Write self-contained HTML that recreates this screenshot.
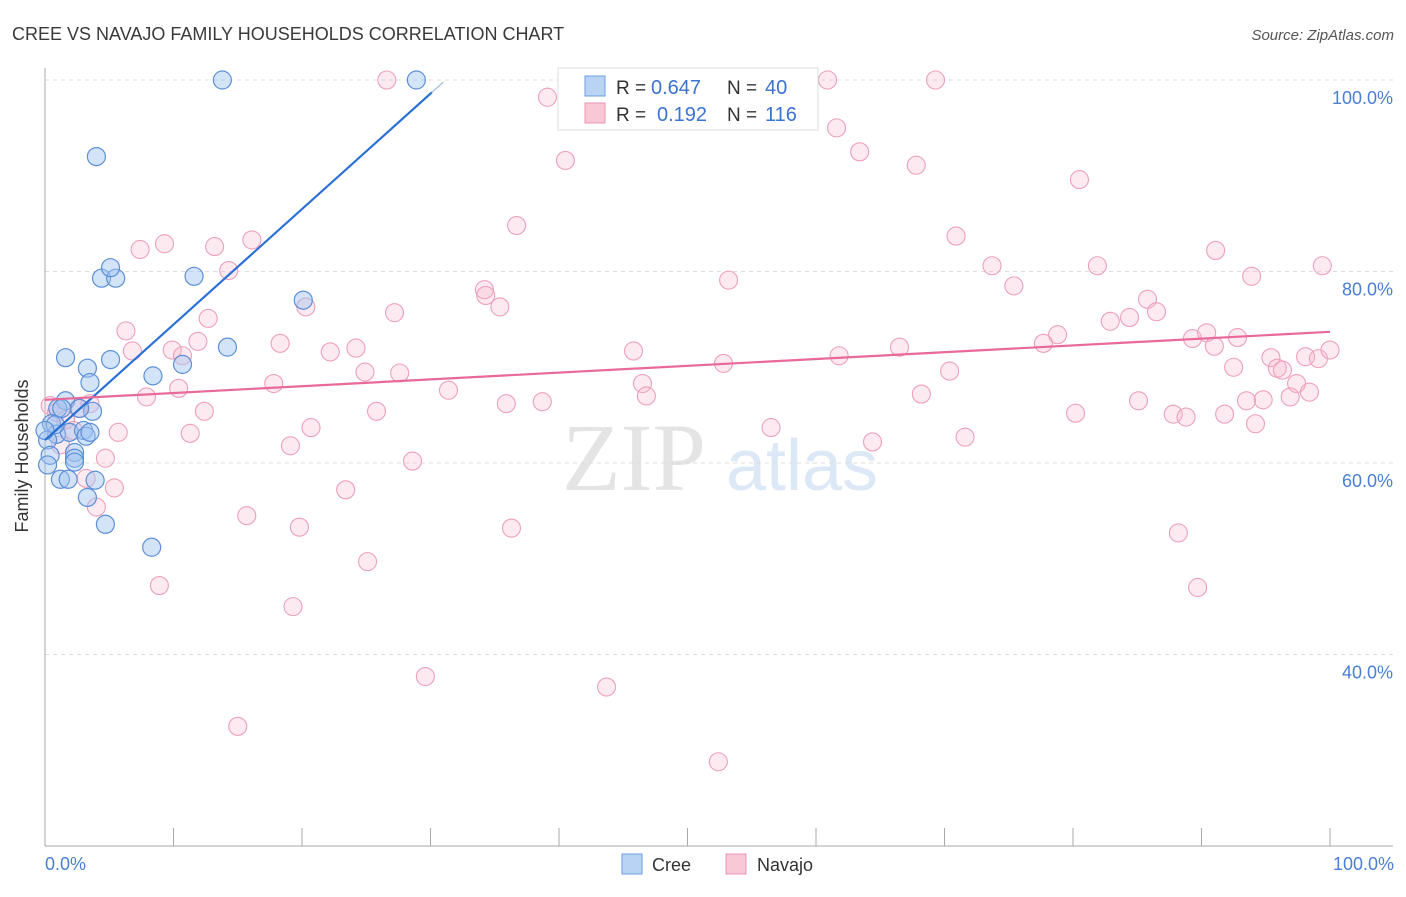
<!DOCTYPE html>
<html><head><meta charset="utf-8"><style>
body{margin:0;background:#fff;font-family:"Liberation Sans",sans-serif}
</style></head><body>
<svg width="1406" height="892" xmlns="http://www.w3.org/2000/svg">
<text x="12" y="40" font-size="18" fill="#3a3a3a">CREE VS NAVAJO FAMILY HOUSEHOLDS CORRELATION CHART</text>
<text x="1394" y="40" font-size="15" fill="#555" text-anchor="end" font-style="italic">Source: ZipAtlas.com</text>
<g>
<text x="634" y="490" font-size="96" fill="#e4e4e4" text-anchor="middle" font-family="Liberation Serif,serif">ZIP</text>
<text x="802" y="490" font-size="72" fill="#dce8f6" text-anchor="middle">atlas</text>
</g>
<g id="grid"></g>
<g id="axes"></g>
<g id="pts"></g>
<g id="lines"></g>
<text x="28" y="456" font-size="18" fill="#333" text-anchor="middle" transform="rotate(-90 28 456)">Family Households</text>
<text x="45" y="870" font-size="18" fill="#4a7fd4">0.0%</text>
<text x="1394" y="870" font-size="18" fill="#4a7fd4" text-anchor="end">100.0%</text>
<g>
<rect x="558" y="68" width="260" height="62" fill="#fff" stroke="#ddd"/>
<rect x="585" y="76" width="20" height="20" fill="#b9d3f5" stroke="#6d9de0"/>
<rect x="585" y="103" width="20" height="20" fill="#f9c8d7" stroke="#e994b2"/>
<text x="616" y="94" font-size="19" fill="#333">R =</text>
<text x="651" y="94" font-size="20" fill="#3a73d1">0.647</text>
<text x="727" y="94" font-size="19" fill="#333">N =</text>
<text x="765" y="94" font-size="20" fill="#3a73d1">40</text>
<text x="616" y="121" font-size="19" fill="#333">R =</text>
<text x="657" y="121" font-size="20" fill="#3a73d1">0.192</text>
<text x="727" y="121" font-size="19" fill="#333">N =</text>
<text x="765" y="121" font-size="20" fill="#3a73d1">116</text>
</g>
<g>
<rect x="622" y="854" width="20" height="20" fill="#b9d3f5" stroke="#6d9de0"/>
<text x="652" y="871" font-size="18" fill="#333">Cree</text>
<rect x="726" y="854" width="20" height="20" fill="#f9c8d7" stroke="#e994b2"/>
<text x="757" y="871" font-size="18" fill="#333">Navajo</text>
</g>
</svg>
<script>
const yTicks=[40,60,80,100];
const yTickLabels=["40.0%","60.0%","80.0%","100.0%"];
const xTicks=[0,10,20,30,40,50,60,70,80,90,100];
const creeX=[13.8,28.9,4.0,4.4,5.5,5.1,11.6,20.1,14.2,1.6,5.1,3.3,10.7,8.4,3.5,1.6,1.0,3.7,2.7,0.5,0.9,1.9,3.0,3.2,0.2,2.3,2.3,0.4,0.2,1.2,1.8,3.9,3.3,4.7,8.3,0.8,1.3,0,3.5,2.3];
const creeY=[100,100,92.0,79.3,79.3,80.4,79.5,77.0,72.1,71.0,70.8,69.9,70.3,69.1,68.4,66.5,65.7,65.4,65.7,64.1,63.0,63.2,63.4,62.8,62.4,61.1,60.5,60.8,59.8,58.3,58.3,58.2,56.4,53.6,51.2,64.0,65.7,63.4,63.2,60.1];
const navX=[26.6,40.7,60.9,69.3,39.1,61.6,40.5,63.4,67.8,80.5,36.7,70.9,9.3,7.4,13.2,16.1,14.3,91.1,73.7,81.9,99.4,93.9,53.2,75.4,34.2,34.3,20.3,35.4,27.2,85.8,86.5,84.4,82.9,12.7,6.3,78.8,77.7,11.9,18.3,89.3,90.4,91.0,92.8,6.8,9.9,10.7,22.2,24.2,45.8,61.8,66.5,52.8,95.4,98.1,99.1,100,95.9,96.3,92.5,24.9,27.6,70.4,17.8,10.4,46.5,46.8,31.4,7.9,68.2,97.4,98.4,96.9,94.8,93.5,85.1,38.7,35.9,12.4,25.8,80.2,87.8,88.8,91.8,94.2,56.5,20.7,5.7,11.3,71.6,64.4,19.1,4.7,28.6,3.2,5.4,23.4,4.0,15.7,19.8,36.3,88.2,25.1,8.9,89.7,19.3,29.6,43.7,15.0,52.4,0.4,0.9,1.6,2.2,2.6,3.5,1.2];
const navY=[100,100,100,100,98.2,95.0,91.6,92.5,91.1,89.6,84.8,83.7,82.9,82.3,82.6,83.3,80.1,82.2,80.6,80.6,80.6,79.5,79.1,78.5,78.1,77.5,76.3,76.3,75.7,77.1,75.8,75.2,74.8,75.1,73.8,73.4,72.5,72.7,72.5,73.0,73.6,72.2,73.1,71.7,71.8,71.2,71.6,72.0,71.7,71.2,72.1,70.4,71.0,71.1,70.9,71.8,69.9,69.7,70.0,69.5,69.4,69.6,68.3,67.8,68.3,67.0,67.6,66.9,67.2,68.3,67.4,66.9,66.6,66.5,66.5,66.4,66.2,65.4,65.4,65.2,65.1,64.8,65.1,64.1,63.7,63.7,63.2,63.1,62.7,62.2,61.8,60.5,60.2,58.4,57.4,57.2,55.4,54.5,53.3,53.2,52.7,49.7,47.2,47.0,45.0,37.7,36.6,32.5,28.8,66.0,65.3,64.5,63.4,65.7,66.2,61.9];
const creeLine=[[0,62.4],[30.1,98.7]];
const navLine=[[0,66.6],[100,73.7]];
const NS="http://www.w3.org/2000/svg";
const sx=v=>45+v*12.85, sy=v=>80+(100-v)*9.575;
function mk(t,a,p){const e=document.createElementNS(NS,t);for(const k in a)e.setAttribute(k,a[k]);document.getElementById(p).appendChild(e);return e;}
yTicks.forEach((t,i)=>{
 const l=mk('line',{x1:45,x2:1393,y1:sy(t),y2:sy(t),stroke:'#ddd','stroke-dasharray':'4,4'},'grid');
 
 
 const tx=mk('text',{x:1393,y:sy(t)+24,'font-size':18,fill:'#4a7fd4','text-anchor':'end'},'grid');
 tx.textContent=yTickLabels[i];
 
 
});
let a=mk('line',{x1:45,x2:45,y1:68,y2:846,stroke:'#aaa'},'axes');


a=mk('line',{x1:45,x2:1393,y1:846,y2:846,stroke:'#aaa'},'axes');


xTicks.forEach(t=>{const l=mk('line',{x1:sx(t),x2:sx(t),y1:828,y2:846,stroke:'#aaa'},'axes');
 
 });
navX.forEach((x,i)=>{const c=mk('circle',{cx:sx(x),cy:sy(navY[i]),r:9,fill:'rgba(248,182,204,0.3)',stroke:'#eda0bb','stroke-width':1.1},'pts');
 
 });
creeX.forEach((x,i)=>{const c=mk('circle',{cx:sx(x),cy:sy(creeY[i]),r:9,fill:'rgba(160,196,240,0.45)',stroke:'#5b8fd8','stroke-width':1.2},'pts');
 
 });
let ln=mk('line',{x1:sx(creeLine[0][0]),y1:sy(creeLine[0][1]),x2:sx(creeLine[1][0]),y2:sy(creeLine[1][1]),stroke:'#2a6fd6','stroke-width':2.2},'lines');


ln=mk('line',{x1:sx(creeLine[1][0]),y1:sy(creeLine[1][1]),x2:sx(31),y2:sy(62.4+31*1.206),stroke:'#9bbbe8','stroke-width':1.2},'lines');


ln=mk('line',{x1:sx(navLine[0][0]),y1:sy(navLine[0][1]),x2:sx(navLine[1][0]),y2:sy(navLine[1][1]),stroke:'#e8699a','stroke-width':2.2},'lines');


</script>
</body></html>
